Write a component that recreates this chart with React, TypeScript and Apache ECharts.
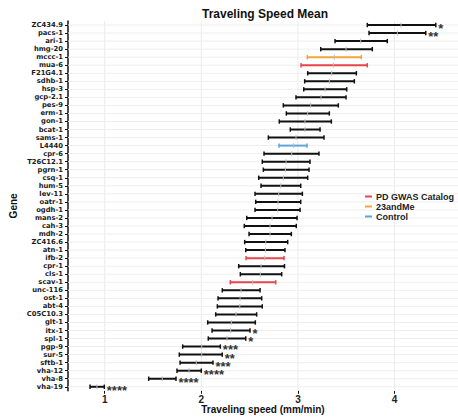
import React, { useEffect, useRef } from "react";
import * as echarts from "echarts";

const genes = [
  "ZC434.9", "pacs-1", "ari-1", "hmg-20", "mccc-1", "mua-6", "F21G4.1", "sdhb-1", "hsp-3", "gcp-2.1",
  "pes-9", "erm-1", "gon-1", "bcat-1", "sams-1", "L4440", "cpr-6", "T26C12.1", "pgrn-1", "csq-1",
  "hum-5", "lev-11", "oatr-1", "ogdh-1", "mans-2", "cah-3", "mdh-2", "ZC416.6", "atn-1", "ifb-2",
  "cpr-1", "cls-1", "scav-1", "unc-116", "ost-1", "abt-4", "C05C10.3", "glt-1", "itx-1", "spl-1",
  "pgp-9", "sur-5", "sftb-1", "vha-12", "vha-8", "vha-19",
];
const lows = [
  3.718, 3.736, 3.384, 3.236, 3.097, 3.032, 3.101, 3.07, 3.06, 2.98,
  2.849, 2.88, 2.807, 2.921, 2.694, 2.804, 2.649, 2.631, 2.642, 2.594,
  2.618, 2.556, 2.563, 2.556, 2.47, 2.445, 2.494, 2.449, 2.46, 2.463,
  2.387, 2.404, 2.3, 2.217, 2.173, 2.166, 2.149, 2.066, 2.111, 2.072,
  1.807, 1.772, 1.78, 1.748, 1.455, 0.848,
];
const means = [
  4.067, 4.029, 3.65, 3.498, 3.377, 3.366, 3.35, 3.325, 3.281, 3.239,
  3.132, 3.101, 3.073, 3.073, 2.98, 2.952, 2.936, 2.877, 2.87, 2.849,
  2.822, 2.801, 2.794, 2.791, 2.732, 2.711, 2.711, 2.667, 2.663, 2.656,
  2.618, 2.611, 2.532, 2.411, 2.401, 2.398, 2.359, 2.311, 2.304, 2.266,
  2.004, 2.004, 1.948, 1.873, 1.596, 0.92,
];
const highs = [
  4.427, 4.323, 3.925, 3.77, 3.656, 3.718, 3.605, 3.584, 3.505, 3.498,
  3.418, 3.325, 3.346, 3.229, 3.27, 3.094, 3.218, 3.125, 3.115, 3.101,
  3.029, 3.046, 3.029, 3.022, 2.991, 2.983, 2.932, 2.894, 2.866, 2.856,
  2.861, 2.832, 2.77, 2.608, 2.625, 2.631, 2.573, 2.559, 2.504, 2.46,
  2.197, 2.217, 2.121, 2.0, 1.738, 0.996,
];
const stars = [
  "*", "**", "", "", "", "", "", "", "", "",
  "", "", "", "", "", "", "", "", "", "",
  "", "", "", "", "", "", "", "", "", "",
  "", "", "", "", "", "", "", "", "*", "*",
  "***", "**", "***", "****", "****", "****",
];
const groups = [
  "", "", "", "", "23andMe", "PD GWAS Catalog", "", "", "", "",
  "", "", "", "", "", "Control", "", "", "", "",
  "", "", "", "", "", "", "", "", "", "PD GWAS Catalog",
  "", "", "PD GWAS Catalog", "", "", "", "", "", "", "",
  "", "", "", "", "", "",
];
const legendGroups = ["PD GWAS Catalog", "23andMe", "Control"];
const groupColors: Record<string, string> = {
  "": "#111111",
  "PD GWAS Catalog": "#E8454B",
  "23andMe": "#F2A63A",
  Control: "#5DA5DA",
};
const xTicks = [1, 2, 3, 4];
const X_MIN = 0.62;
const X_MAX = 4.657;

const FONT = '"Liberation Sans", Arial, Helvetica, sans-serif';
const LABEL_FONT = '"DejaVu Sans", "Liberation Sans", sans-serif';

function errorBarSeries(group: string) {
  const color = groupColors[group];
  const data = genes
    .map((g, i) => [lows[i], means[i], highs[i], i, groups[i]] as const)
    .filter((d) => d[4] === group)
    .map((d) => [d[0], d[1], d[2], d[3]]);
  return {
    type: "custom",
    name: group || "Other",
    itemStyle: { color },
    encode: { x: [0, 1, 2], y: 3 },
    data,
    z: 5,
    renderItem: (params: any, api: any) => {
      const gi = api.value(3) as number;
      const lo = api.coord([api.value(0), gi]);
      const mid = api.coord([api.value(1), gi]);
      const hi = api.coord([api.value(2), gi]);
      const y = lo[1];
      const children: any[] = [
        { type: "line", shape: { x1: lo[0], y1: y, x2: hi[0], y2: y }, style: { stroke: color, lineWidth: 2 } },
        { type: "line", shape: { x1: lo[0], y1: y - 2.2, x2: lo[0], y2: y + 2.2 }, style: { stroke: color, lineWidth: 1.5 } },
        { type: "line", shape: { x1: hi[0], y1: y - 2.2, x2: hi[0], y2: y + 2.2 }, style: { stroke: color, lineWidth: 1.5 } },
        { type: "line", shape: { x1: mid[0], y1: y - 2.5, x2: mid[0], y2: y + 2.5 }, style: { stroke: "#bdbdbd", lineWidth: 1 } },
      ];
      const s = stars[gi];
      if (s) {
        children.push({
          type: "text",
          x: hi[0] + 2.5,
          y: y + 3.4,
          scaleX: 1.85,
          scaleY: 1.85,
          style: {
            text: s,
            fill: "#333333",
            fontSize: 7,
            fontWeight: "bold",
            fontFamily: FONT,
            align: "left",
            verticalAlign: "middle",
          },
        });
      }
      return { type: "group", children };
    },
  };
}

export default function App() {
  const ref = useRef<HTMLDivElement>(null);
  useEffect(() => {
    if (!ref.current) return;
    const chart = echarts.init(ref.current, null, { renderer: "svg" });
    const gridSeries = {
      type: "custom",
      name: "grid",
      silent: true,
      z: 1,
      encode: { x: 0, y: 1 },
      data: genes.map((g, i) => [X_MIN, i]),
      renderItem: (params: any, api: any) => {
        const cs = params.coordSys;
        const idx = api.value(1);
        const y = api.coord([X_MIN, idx])[1];
        const children: any[] = [
          { type: "line", shape: { x1: cs.x, y1: y, x2: cs.x + cs.width, y2: y }, style: { stroke: "#eeeeee", lineWidth: 1 } },
        ];
        if (params.dataIndex === 0) {
          xTicks.forEach((v) => {
            const x = api.coord([v, idx])[0];
            children.push({
              type: "line",
              shape: { x1: x, y1: cs.y, x2: x, y2: cs.y + cs.height },
              style: { stroke: "#ebebeb", lineWidth: 1 },
            });
          });
        }
        return { type: "group", children };
      },
    };
    const option: any = {
      animation: false,
      backgroundColor: "#ffffff",
      title: {
        text: "Traveling Speed Mean",
        left: 202,
        top: 8,
        padding: 0,
        textStyle: { fontSize: 12, fontWeight: "bold", color: "#111", fontFamily: FONT },
      },
      legend: {
        data: legendGroups,
        orient: "vertical",
        left: 365,
        top: 192,
        padding: 0,
        itemWidth: 7,
        itemHeight: 2,
        itemGap: 1,
        icon: "rect",
        selectedMode: false,
        textStyle: { fontSize: 9, fontWeight: "bold", color: "#222", fontFamily: FONT, padding: [0, 0, 0, -1] },
      },
      grid: { left: 68, right: 0, top: 21, bottom: 27.2, containLabel: false, outerBoundsMode: "none" },
      xAxis: {
        type: "value",
        min: X_MIN,
        max: X_MAX,
        name: "Traveling speed (mm/min)",
        nameLocation: "middle",
        nameGap: 14,
        nameMoveOverlap: false,
        nameTextStyle: { fontSize: 10, fontWeight: "bold", color: "#111", fontFamily: FONT },
        splitLine: { show: false },
        axisLine: { lineStyle: { color: "#111", width: 1.5 } },
        axisTick: { show: true, length: 3, customValues: xTicks, lineStyle: { color: "#111" } },
        axisLabel: { customValues: xTicks, margin: 4, fontSize: 10, fontWeight: "bold", color: "#222", fontFamily: FONT },
      },
      yAxis: {
        type: "category",
        data: genes,
        inverse: true,
        name: "Gene",
        nameLocation: "middle",
        nameRotate: 90,
        nameGap: 50,
        nameMoveOverlap: false,
        nameTextStyle: { fontSize: 10, fontWeight: "bold", color: "#111", fontFamily: FONT },
        axisLine: { lineStyle: { color: "#111", width: 1.5 } },
        axisTick: { show: true, alignWithLabel: true, length: 3, lineStyle: { color: "#111" } },
        axisLabel: { interval: 0, margin: 5, fontSize: 6.8, fontWeight: "bold", color: "#1a1a1a", fontFamily: LABEL_FONT },
        splitLine: { show: false },
      },
      series: [gridSeries, errorBarSeries(""), ...legendGroups.map((g) => errorBarSeries(g))],
    };
    chart.setOption(option);
    return () => chart.dispose();
  }, []);
  return <div ref={ref} style={{ position: "absolute", left: 0, top: 0, width: 458, height: 418 }} />;
}
